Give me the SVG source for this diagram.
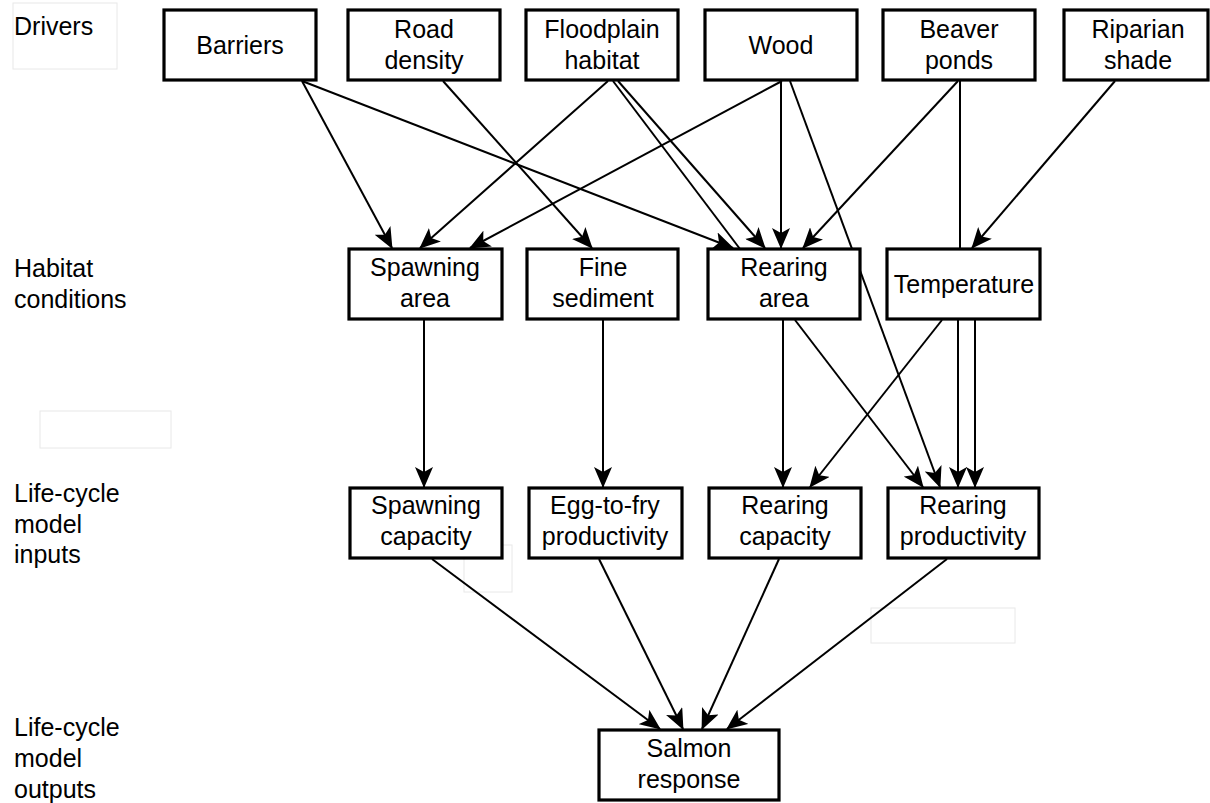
<svg xmlns="http://www.w3.org/2000/svg" width="1210" height="803" viewBox="0 0 1210 803">
<style>
  .box { fill: #fff; stroke: #000; stroke-width: 3.2; }
  .t { font-family: "Liberation Sans", Arial, sans-serif; font-size: 25px; fill: #000; text-anchor: middle; }
  .lbl { font-family: "Liberation Sans", Arial, sans-serif; font-size: 25px; fill: #000; }
  .c { stroke: #000; stroke-width: 2; fill: none; }
  .ca { stroke: #000; stroke-width: 2; fill: none; marker-end: url(#arr); }
  .faint { fill: none; stroke: #e8e8e8; stroke-width: 1; }
</style>
<defs>
  <marker id="arr" viewBox="0 0 21 18" markerWidth="21" markerHeight="18" refX="20" refY="9" orient="auto" markerUnits="userSpaceOnUse">
    <path d="M0,0 L21,9 L0,18 L5,9 Z" fill="#000"/>
  </marker>
</defs>
<rect width="1210" height="803" fill="#fff"/>

<g id="faint-boxes">
  <rect class="faint" x="13" y="3" width="104" height="66"/>
  <rect class="faint" x="40" y="411" width="131" height="37"/>
  <rect class="faint" x="464" y="545" width="48" height="47"/>
  <rect class="faint" x="871" y="608" width="144" height="35"/>
</g>

<g id="row-labels">
  <text class="lbl" x="14" y="35">Drivers</text>
  <text class="lbl" x="14" y="277">Habitat</text>
  <text class="lbl" x="14" y="308">conditions</text>
  <text class="lbl" x="14" y="502">Life-cycle</text>
  <text class="lbl" x="14" y="533">model</text>
  <text class="lbl" x="14" y="563">inputs</text>
  <text class="lbl" x="14" y="736">Life-cycle</text>
  <text class="lbl" x="14" y="767">model</text>
  <text class="lbl" x="14" y="798">outputs</text>
</g>

<g id="connectors">
  <line class="ca" x1="302" y1="81" x2="392" y2="248"/>
  <line class="ca" x1="302" y1="81" x2="733" y2="248"/>
  <line class="ca" x1="443" y1="81" x2="592" y2="248"/>
  <line class="ca" x1="608" y1="81" x2="420" y2="248"/>
  <line class="c" x1="613" y1="81" x2="740" y2="249"/>
  <line class="ca" x1="618" y1="81" x2="765" y2="248"/>
  <line class="ca" x1="782" y1="81" x2="470" y2="248"/>
  <line class="ca" x1="781" y1="81" x2="781" y2="248"/>
  <line class="ca" x1="790" y1="81" x2="940" y2="487"/>
  <line class="ca" x1="958" y1="81" x2="803" y2="248"/>
  <line class="c" x1="960" y1="81" x2="960" y2="249"/>
  <line class="ca" x1="1115" y1="81" x2="972" y2="248"/>
  <line class="ca" x1="424" y1="320" x2="424" y2="487"/>
  <line class="ca" x1="603" y1="320" x2="603" y2="487"/>
  <line class="ca" x1="783" y1="320" x2="783" y2="487"/>
  <line class="ca" x1="795" y1="320" x2="923" y2="487"/>
  <line class="ca" x1="942" y1="320" x2="810" y2="487"/>
  <line class="ca" x1="958" y1="320" x2="958" y2="487"/>
  <line class="ca" x1="975" y1="320" x2="975" y2="487"/>
  <line class="ca" x1="432" y1="559" x2="660" y2="729"/>
  <line class="ca" x1="599" y1="559" x2="683" y2="729"/>
  <line class="ca" x1="779" y1="559" x2="702" y2="729"/>
  <line class="ca" x1="947" y1="559" x2="727" y2="729"/>
</g>

<g id="barriers"><rect class="box" x="164" y="10" width="152" height="70"/><text class="t" x="240" y="54">Barriers</text></g>
<g id="road-density"><rect class="box" x="348" y="10" width="152" height="70"/><text class="t" x="424" y="38">Road</text><text class="t" x="424" y="69">density</text></g>
<g id="floodplain-habitat"><rect class="box" x="526" y="10" width="152" height="70"/><text class="t" x="602" y="38">Floodplain</text><text class="t" x="602" y="69">habitat</text></g>
<g id="wood"><rect class="box" x="705" y="10" width="152" height="70"/><text class="t" x="781" y="54">Wood</text></g>
<g id="beaver-ponds"><rect class="box" x="883" y="10" width="152" height="70"/><text class="t" x="959" y="38">Beaver</text><text class="t" x="959" y="69">ponds</text></g>
<g id="riparian-shade"><rect class="box" x="1064" y="10" width="144" height="70"/><text class="t" x="1138" y="38">Riparian</text><text class="t" x="1138" y="69">shade</text></g>

<g id="spawning-area"><rect class="box" x="349" y="249" width="153" height="70"/><text class="t" x="425" y="276">Spawning</text><text class="t" x="425" y="307">area</text></g>
<g id="fine-sediment"><rect class="box" x="527" y="249" width="151" height="70"/><text class="t" x="603" y="276">Fine</text><text class="t" x="603" y="307">sediment</text></g>
<g id="rearing-area"><rect class="box" x="708" y="249" width="152" height="70"/><text class="t" x="784" y="276">Rearing</text><text class="t" x="784" y="307">area</text></g>
<g id="temperature"><rect class="box" x="887" y="249" width="153" height="70"/><text class="t" x="964" y="293">Temperature</text></g>

<g id="spawning-capacity"><rect class="box" x="350" y="488" width="152" height="70"/><text class="t" x="426" y="514">Spawning</text><text class="t" x="426" y="545">capacity</text></g>
<g id="egg-to-fry"><rect class="box" x="529" y="488" width="153" height="70"/><text class="t" x="605" y="514">Egg-to-fry</text><text class="t" x="605" y="545">productivity</text></g>
<g id="rearing-capacity"><rect class="box" x="709" y="488" width="152" height="70"/><text class="t" x="785" y="514">Rearing</text><text class="t" x="785" y="545">capacity</text></g>
<g id="rearing-productivity"><rect class="box" x="888" y="488" width="151" height="70"/><text class="t" x="963" y="514">Rearing</text><text class="t" x="963" y="545">productivity</text></g>

<g id="salmon-response"><rect class="box" x="599" y="730" width="180" height="70"/><text class="t" x="689" y="757">Salmon</text><text class="t" x="689" y="788">response</text></g>
</svg>
